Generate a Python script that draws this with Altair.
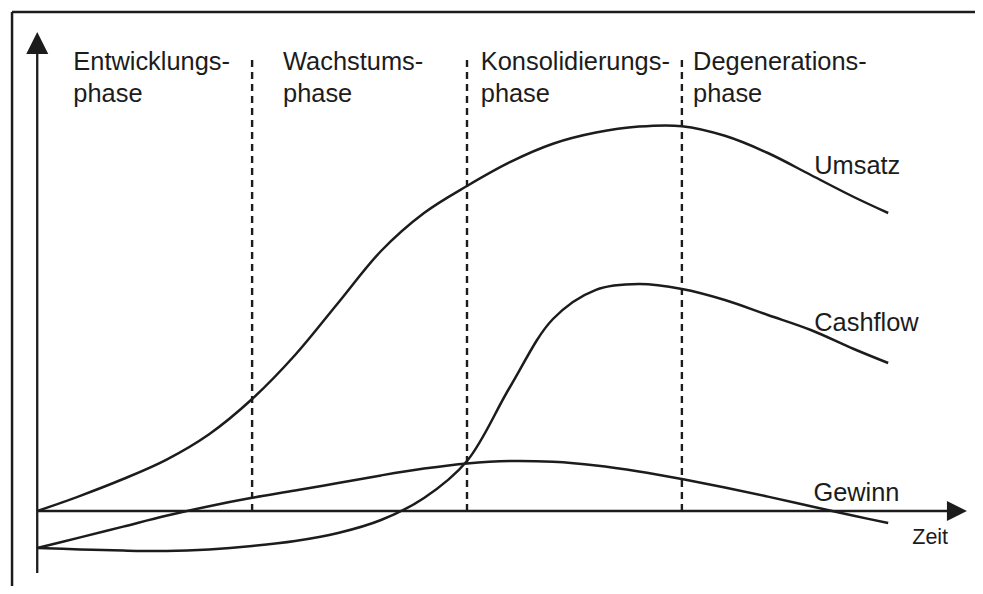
import altair as alt
import pandas as pd

# ---- data ----
zeit = [0, 5, 10, 15, 20, 25, 30, 35, 40, 45, 50, 55, 60, 65, 70, 75, 80, 85, 90, 95, 99]
umsatz = [0, 3.8, 8, 12.8, 19.2, 28, 39, 52, 65, 74.5, 81.25, 87.2, 91.8, 94.6, 96.1,
          96.2, 93.8, 89.5, 84, 78.5, 74.5]
cashflow = [-9.25, -9.6, -9.9, -10, -9.6, -8.75, -7.5, -5.5, -2.25, 3.25, 12.5, 31, 48,
            55.3, 56.75, 55.5, 52.75, 49, 45.25, 40.5, 37]
gewinn = [-9.25, -6.6, -3.9, -1.2, 1.2, 3.3, 5.1, 7, 8.9, 10.6, 11.9, 12.5, 12.3, 11.4,
          9.9, 8, 5.9, 3.6, 1.2, -1.2, -3]

phasen_grenzen = [25, 50, 75]
phasen_namen = ["Entwicklungs-\nphase", "Wachstums-\nphase",
                "Konsolidierungs-\nphase", "Degenerations-\nphase"]
phasen_text_t = [4.2, 28.6, 51.6, 76.3]
phasen_text_v = [110.25, 110.25, 110.25, 110.25]

kurven_namen = ["Umsatz", "Cashflow", "Gewinn"]
kurven_text_t = [90.4, 90.4, 90.3]
kurven_text_v = [84.25, 45.0, 2.6]

achse_t_name = ["Zeit"]
achse_t_pos = [101.8]
achse_v_pos = [-8.25]

# geometry of the drawing in data units
X_DOM = [-3.4, 109.1]
Y_DOM = [-18.75, 125.75]
INK = "#1c1c1c"
FONT = "Liberation Sans"

xs = alt.Scale(domain=X_DOM, nice=False, zero=False)
ys = alt.Scale(domain=Y_DOM, nice=False, zero=False)

rows = []
for name, vals in [("Umsatz", umsatz), ("Cashflow", cashflow), ("Gewinn", gewinn)]:
    for t, v in zip(zeit, vals):
        rows.append({"kurve": name, "t": t, "v": v})
kurven_df = pd.DataFrame(rows)

curves = alt.Chart(kurven_df).mark_line(
    color=INK, strokeWidth=2.5, interpolate="catmull-rom"
).encode(
    x=alt.X("t:Q", scale=xs, axis=None),
    y=alt.Y("v:Q", scale=ys, axis=None),
    detail="kurve:N",
)

# phase separators (dashed)
grenz_df = pd.DataFrame({"t": phasen_grenzen, "v0": [0] * 3, "v1": [113.5] * 3})
dashes = alt.Chart(grenz_df).mark_rule(
    color=INK, strokeWidth=2.4, strokeDash=[7, 5]
).encode(
    x=alt.X("t:Q", scale=xs, axis=None),
    y=alt.Y("v0:Q", scale=ys, axis=None),
    y2="v1:Q",
)

# axes
yaxis_df = pd.DataFrame({"t": [0], "v0": [-15.5], "v1": [114.5]})
yaxis = alt.Chart(yaxis_df).mark_rule(color=INK, strokeWidth=2.3).encode(
    x=alt.X("t:Q", scale=xs, axis=None),
    y=alt.Y("v0:Q", scale=ys, axis=None),
    y2="v1:Q",
)
xaxis_df = pd.DataFrame({"t0": [0], "t1": [106], "v": [0]})
xaxis = alt.Chart(xaxis_df).mark_rule(color=INK, strokeWidth=2.3).encode(
    x=alt.X("t0:Q", scale=xs, axis=None),
    x2="t1:Q",
    y=alt.Y("v:Q", scale=ys, axis=None),
)

up_df = pd.DataFrame({"t": [0], "v": [117]})
arrow_up = alt.Chart(up_df).mark_point(
    shape="M0,-1L1,1L-1,1Z", size=484, filled=True, color=INK, opacity=1, strokeWidth=0
).encode(
    x=alt.X("t:Q", scale=xs, axis=None),
    y=alt.Y("v:Q", scale=ys, axis=None),
)
right_df = pd.DataFrame({"t": [107.0], "v": [0]})
arrow_right = alt.Chart(right_df).mark_point(
    shape="M1,0L-1,-1L-1,1Z", size=400, filled=True, color=INK, opacity=1, strokeWidth=0
).encode(
    x=alt.X("t:Q", scale=xs, axis=None),
    y=alt.Y("v:Q", scale=ys, axis=None),
)

# frame (left and top edge)
frame_left_df = pd.DataFrame({"t": [-2.93], "v0": [Y_DOM[0]], "v1": [124.75]})
frame_left = alt.Chart(frame_left_df).mark_rule(color=INK, strokeWidth=2.5).encode(
    x=alt.X("t:Q", scale=xs, axis=None),
    y=alt.Y("v0:Q", scale=ys, axis=None),
    y2="v1:Q",
)
frame_top_df = pd.DataFrame({"t0": [-2.93], "t1": [X_DOM[1]], "v": [124.75]})
frame_top = alt.Chart(frame_top_df).mark_rule(color=INK, strokeWidth=2.5).encode(
    x=alt.X("t0:Q", scale=xs, axis=None),
    x2="t1:Q",
    y=alt.Y("v:Q", scale=ys, axis=None),
)

# texts
phasen_df = pd.DataFrame({"name": phasen_namen, "t": phasen_text_t, "v": phasen_text_v})
phasen_text = alt.Chart(phasen_df).mark_text(
    align="left", baseline="alphabetic", fontSize=25.4, font=FONT, color=INK,
    lineBreak="\n", lineHeight=32
).encode(
    x=alt.X("t:Q", scale=xs, axis=None),
    y=alt.Y("v:Q", scale=ys, axis=None),
    text="name:N",
)

kurven_text_df = pd.DataFrame({"name": kurven_namen, "t": kurven_text_t, "v": kurven_text_v})
kurven_text = alt.Chart(kurven_text_df).mark_text(
    align="left", baseline="alphabetic", fontSize=25.4, font=FONT, color=INK
).encode(
    x=alt.X("t:Q", scale=xs, axis=None),
    y=alt.Y("v:Q", scale=ys, axis=None),
    text="name:N",
)

zeit_df = pd.DataFrame({"name": achse_t_name, "t": achse_t_pos, "v": achse_v_pos})
zeit_text = alt.Chart(zeit_df).mark_text(
    align="left", baseline="alphabetic", fontSize=21.5, font=FONT, color=INK
).encode(
    x=alt.X("t:Q", scale=xs, axis=None),
    y=alt.Y("v:Q", scale=ys, axis=None),
    text="name:N",
)

chart = alt.layer(
    frame_left, frame_top, dashes, xaxis, yaxis, arrow_up, arrow_right,
    curves, phasen_text, kurven_text, zeit_text
).properties(
    width=967, height=578, padding=0,
    autosize=alt.AutoSizeParams(type="none"),
    background="white",
).configure_view(stroke=None)

chart.save("out.html", embed_options={"renderer": "svg", "actions": False})
